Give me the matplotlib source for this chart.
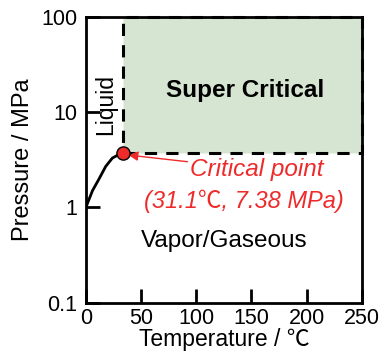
import matplotlib
matplotlib.use('Agg')
import matplotlib.pyplot as plt
from matplotlib.patches import Rectangle

plt.rcParams['font.family'] = ['Liberation Sans', 'Noto Sans CJK JP', 'DejaVu Sans']

# saturation curve
curve_T = [0, 6, 12, 18, 24, 29, 33.5]
curve_P = [1.0, 1.5, 2.0, 2.7, 3.3, 3.55, 3.7]
crit_T = 33.5
crit_P = 3.7
x_ticks = [0, 50, 100, 150, 200, 250]
y_ticks = [0.1, 1, 10, 100]
y_labels = ['0.1', '1', '10', '100']

fig = plt.figure(figsize=(3.85, 3.56), dpi=100)
ax = fig.add_axes([0.223, 0.15, 0.717, 0.802])

ax.set_yscale('log')
ax.set_xlim(0, 250)
ax.set_ylim(0.1, 100)

# super critical region
ax.add_patch(Rectangle((crit_T, crit_P), 250 - crit_T, 100 - crit_P,
                       facecolor='#d6e5d1', edgecolor='black', lw=2.2,
                       ls=(0, (4, 3)), clip_on=False, zorder=2))

ax.plot(curve_T, curve_P, color='black', lw=2, zorder=3)
ax.plot([crit_T], [crit_P], 'o', ms=9.5, mfc='#ee2b2b', mec='black', mew=1, zorder=5, clip_on=False)

ax.text(144, 17, 'Super Critical', fontsize=17.5, fontweight='bold', ha='center', va='center')
ax.text(18, 12, 'Liquid', fontsize=16.5, rotation=90, ha='center', va='center')
ax.annotate('Critical point', xy=(crit_T + 5, crit_P * 0.96), xytext=(155, 2.5),
            fontsize=17.5, style='italic', color='#ee2b2b', ha='center', va='center',
            arrowprops=dict(arrowstyle='-|>', color='#ee2b2b', lw=1, shrinkA=50, shrinkB=0,
                            mutation_scale=14))
ax.text(143, 1.15, '(31.1\u2103, 7.38 MPa)', fontsize=17, style='italic', color='#ee2b2b',
        ha='center', va='center')
ax.text(125, 0.44, 'Vapor/Gaseous', fontsize=17.5, ha='center', va='center')

ax.set_xticks(x_ticks)
ax.set_yticks(y_ticks)
ax.set_yticklabels(y_labels)
ax.yaxis.set_minor_locator(matplotlib.ticker.NullLocator())
ax.tick_params(direction='in', length=10, width=2, labelsize=15.5, pad=6)
ax.tick_params(axis='x', pad=4)
for s in ax.spines.values():
    s.set_linewidth(2)

ax.set_xlabel('Temperature / \u2103', fontsize=16.5, labelpad=-1)
ax.set_ylabel('Pressure / MPa', fontsize=17, labelpad=5)

fig.savefig('out.png', dpi=100)
